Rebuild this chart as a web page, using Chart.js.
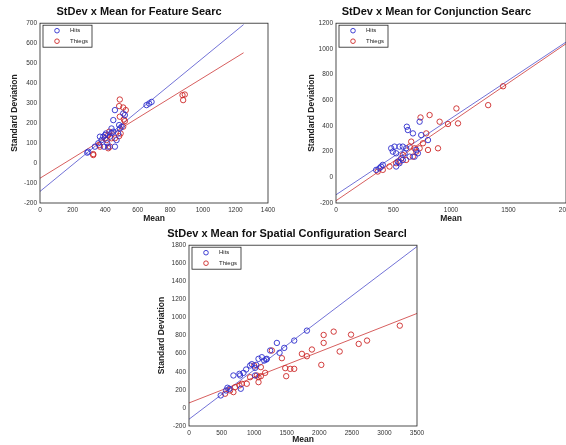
<!DOCTYPE html>
<html>
<head>
<meta charset="utf-8">
<script src="https://cdn.jsdelivr.net/npm/chart.js@4/dist/chart.umd.min.js"></script>
<style>
  body { margin: 0; width: 566px; height: 445px; overflow: hidden; background: #fff; position: relative; }
  .box { position: absolute; }
</style>
</head>
<body>
<div class="box" style="left:0;top:0;width:283px;height:226px"><canvas id="feature" width="283" height="226"></canvas></div>
<div class="box" style="left:283px;top:0;width:300px;height:226px"><canvas id="conj" width="300" height="226"></canvas></div>
<div class="box" style="left:140px;top:222px;width:300px;height:223px"><canvas id="spatial" width="300" height="223"></canvas></div>
<script>
// Feature search
const featureHitsX = [290,296,337,358,378,388,405,413,419,439,450,460,470,480,490,460,511,521,501,654,670,685,450,368,393,429,486,400,440];
const featureHitsY = [52,57,82,99,115,132,148,99,82,173,215,82,115,148,173,265,248,240,182,290,298,306,157,132,82,132,190,140,150];
const featureThiegsX = [327,327,368,364,409,419,425,429,419,399,490,486,511,527,490,515,495,486,511,879,875,889,460,439,521];
const featureThiegsY = [45,40,82,90,115,140,157,82,74,124,318,285,278,265,232,218,148,135,182,315,340,343,124,124,210];
const featureFitX = [0, 1250];
const featureHitsFit = [-142, 693];
const featureThiegsFit = [-76, 552];

// Conjunction search
const conjHitsX = [349,378,407,392,480,494,509,523,538,552,567,581,596,610,616,625,640,669,683,712,727,741,800,523,552,581,698];
const conjHitsY = [58,71,97,84,226,200,239,187,122,110,148,239,187,226,394,368,161,342,161,187,433,329,290,84,239,135,213];
const conjThiegsX = [363,407,465,523,552,581,610,654,669,698,727,735,814,785,800,756,887,901,974,1061,1047,1323,1453,640,683];
const conjThiegsY = [45,58,84,110,122,174,135,278,161,200,226,466,485,342,213,265,226,433,415,420,536,562,709,239,226];
const conjFitX = [0, 2000];
const conjHitsFit = [-136, 1053];
const conjThiegsFit = [-182, 1040];

// Spatial configuration search
const spatialHitsX = [487,569,590,620,682,774,785,836,877,938,964,1015,1031,1067,1118,1154,1185,1246,1349,1390,1462,1615,1810,795,1195,1015];
const spatialHitsY = [138,193,223,212,359,377,359,388,425,469,484,443,476,543,561,524,535,635,719,610,664,745,855,212,543,359];
const spatialThiegsX = [554,631,682,708,774,810,887,938,1000,1041,1067,1103,1103,1169,1272,1426,1477,1492,1554,1615,1733,1810,1887,2031,2067,2067,2221,2313,2487,2605,2733,3236,1067];
const spatialThiegsY = [157,193,175,230,249,267,267,340,469,359,340,351,451,388,635,550,440,351,432,432,598,572,646,476,807,719,844,624,811,708,745,910,285];
const spatialFitX = [0, 3500];
const spatialHitsFit = [-125, 1785];
const spatialThiegsFit = [55, 1045];

const seriesNames = ["Hits", "Thiegs"];

const blue = "rgb(45,45,205)";
const red = "rgb(205,40,40)";
const blueLine = "rgb(115,115,215)";
const redLine = "rgb(215,95,95)";

Chart.defaults.font.family = "'Liberation Sans', Arial, sans-serif";
Chart.defaults.color = "#333";

function zip(xs, ys) {
  return xs.map((x, i) => ({ x: x, y: ys[i] }));
}

// box around plot + matlab-ish legend in the corner
const framePlugin = {
  id: "frame",
  afterDraw(chart) {
    const ctx = chart.ctx;
    const a = chart.chartArea;
    ctx.save();
    ctx.strokeStyle = "#222";
    ctx.lineWidth = 0.8;
    ctx.strokeRect(a.left, a.top, a.right - a.left, a.bottom - a.top);

    const lx = a.left + 3, ly = a.top + 2;
    ctx.fillStyle = "#fff";
    ctx.fillRect(lx, ly, 49, 22);
    ctx.strokeRect(lx, ly, 49, 22);
    ctx.font = "6px 'Liberation Sans', Arial";
    ctx.textBaseline = "middle";
    const cols = [blue, red];
    for (let i = 0; i < 2; i++) {
      const cy = ly + 5.5 + i * 10.5;
      ctx.beginPath();
      ctx.strokeStyle = cols[i];
      ctx.lineWidth = 0.9;
      ctx.arc(lx + 14, cy, 2.3, 0, Math.PI * 2);
      ctx.stroke();
      ctx.fillStyle = "#222";
      ctx.fillText(chart.data.datasets[i].label, lx + 27, cy);
    }
    ctx.restore();
  }
};

function makeChart(id, cfg) {
  const pointSet = (label, xs, ys, col) => ({
    label: label,
    data: zip(xs, ys),
    borderColor: col,
    backgroundColor: "transparent",
    pointRadius: 2.7,
    pointBorderWidth: 0.9,
    showLine: false
  });
  const lineSet = (ys, col) => ({
    label: "",
    data: zip(cfg.fitX, ys),
    borderColor: col,
    borderWidth: 1,
    pointRadius: 0,
    showLine: true
  });
  return new Chart(document.getElementById(id), {
    type: "scatter",
    data: {
      datasets: [
        pointSet(seriesNames[0], cfg.hitsX, cfg.hitsY, blue),
        pointSet(seriesNames[1], cfg.thiegsX, cfg.thiegsY, red),
        lineSet(cfg.hitsFit, blueLine),
        lineSet(cfg.thiegsFit, redLine)
      ]
    },
    options: {
      responsive: false,
      animation: false,
      layout: { padding: cfg.pad },
      plugins: {
        legend: { display: false },
        tooltip: { enabled: false },
        title: {
          display: true,
          text: cfg.title,
          color: "#111",
          font: { size: 11, weight: "bold" },
          padding: { top: 5, bottom: 5 }
        }
      },
      scales: {
        x: {
          type: "linear",
          min: cfg.xMin, max: cfg.xMax,
          grid: { display: false, drawTicks: false },
          border: { display: false },
          ticks: { stepSize: cfg.xStep, autoSkip: false, font: { size: 6.5 }, padding: 3, maxRotation: 0, callback: v => String(v) },
          title: { display: true, text: "Mean", color: "#222", font: { size: 8.5, weight: "bold" }, padding: 0 },
          afterFit: s => { s.height = cfg.xH; }
        },
        y: {
          min: cfg.yMin, max: cfg.yMax,
          grid: { display: false, drawTicks: false },
          border: { display: false },
          ticks: { stepSize: cfg.yStep, autoSkip: false, font: { size: 6.5 }, padding: 3, callback: v => String(v) },
          title: { display: true, text: "Standard Deviation", color: "#222", font: { size: 8.5, weight: "bold" }, padding: 0 },
          afterFit: s => { s.width = cfg.yW; }
        }
      }
    },
    plugins: [framePlugin]
  });
}

makeChart("feature", {
  title: "StDev x Mean for Feature Searc",
  hitsX: featureHitsX, hitsY: featureHitsY, thiegsX: featureThiegsX, thiegsY: featureThiegsY,
  fitX: featureFitX, hitsFit: featureHitsFit, thiegsFit: featureThiegsFit,
  xMin: 0, xMax: 1400, xStep: 200, yMin: -200, yMax: 700, yStep: 100,
  pad: { left: 10, right: 15, top: 0, bottom: 2 }, yW: 30, xH: 21
});

makeChart("conj", {
  title: "StDev x Mean for Conjunction Searc",
  hitsX: conjHitsX, hitsY: conjHitsY, thiegsX: conjThiegsX, thiegsY: conjThiegsY,
  fitX: conjFitX, hitsFit: conjHitsFit, thiegsFit: conjThiegsFit,
  xMin: 0, xMax: 2000, xStep: 500, yMin: -200, yMax: 1200, yStep: 200,
  pad: { left: 24, right: 17, top: 0, bottom: 2 }, yW: 29, xH: 21
});

makeChart("spatial", {
  title: "StDev x Mean for Spatial Configuration Searcl",
  hitsX: spatialHitsX, hitsY: spatialHitsY, thiegsX: spatialThiegsX, thiegsY: spatialThiegsY,
  fitX: spatialFitX, hitsFit: spatialHitsFit, thiegsFit: spatialThiegsFit,
  xMin: 0, xMax: 3500, xStep: 500, yMin: -200, yMax: 1800, yStep: 200,
  pad: { left: 17, right: 23, top: 0, bottom: 0 }, yW: 32, xH: 19
});
</script>
</body>
</html>
